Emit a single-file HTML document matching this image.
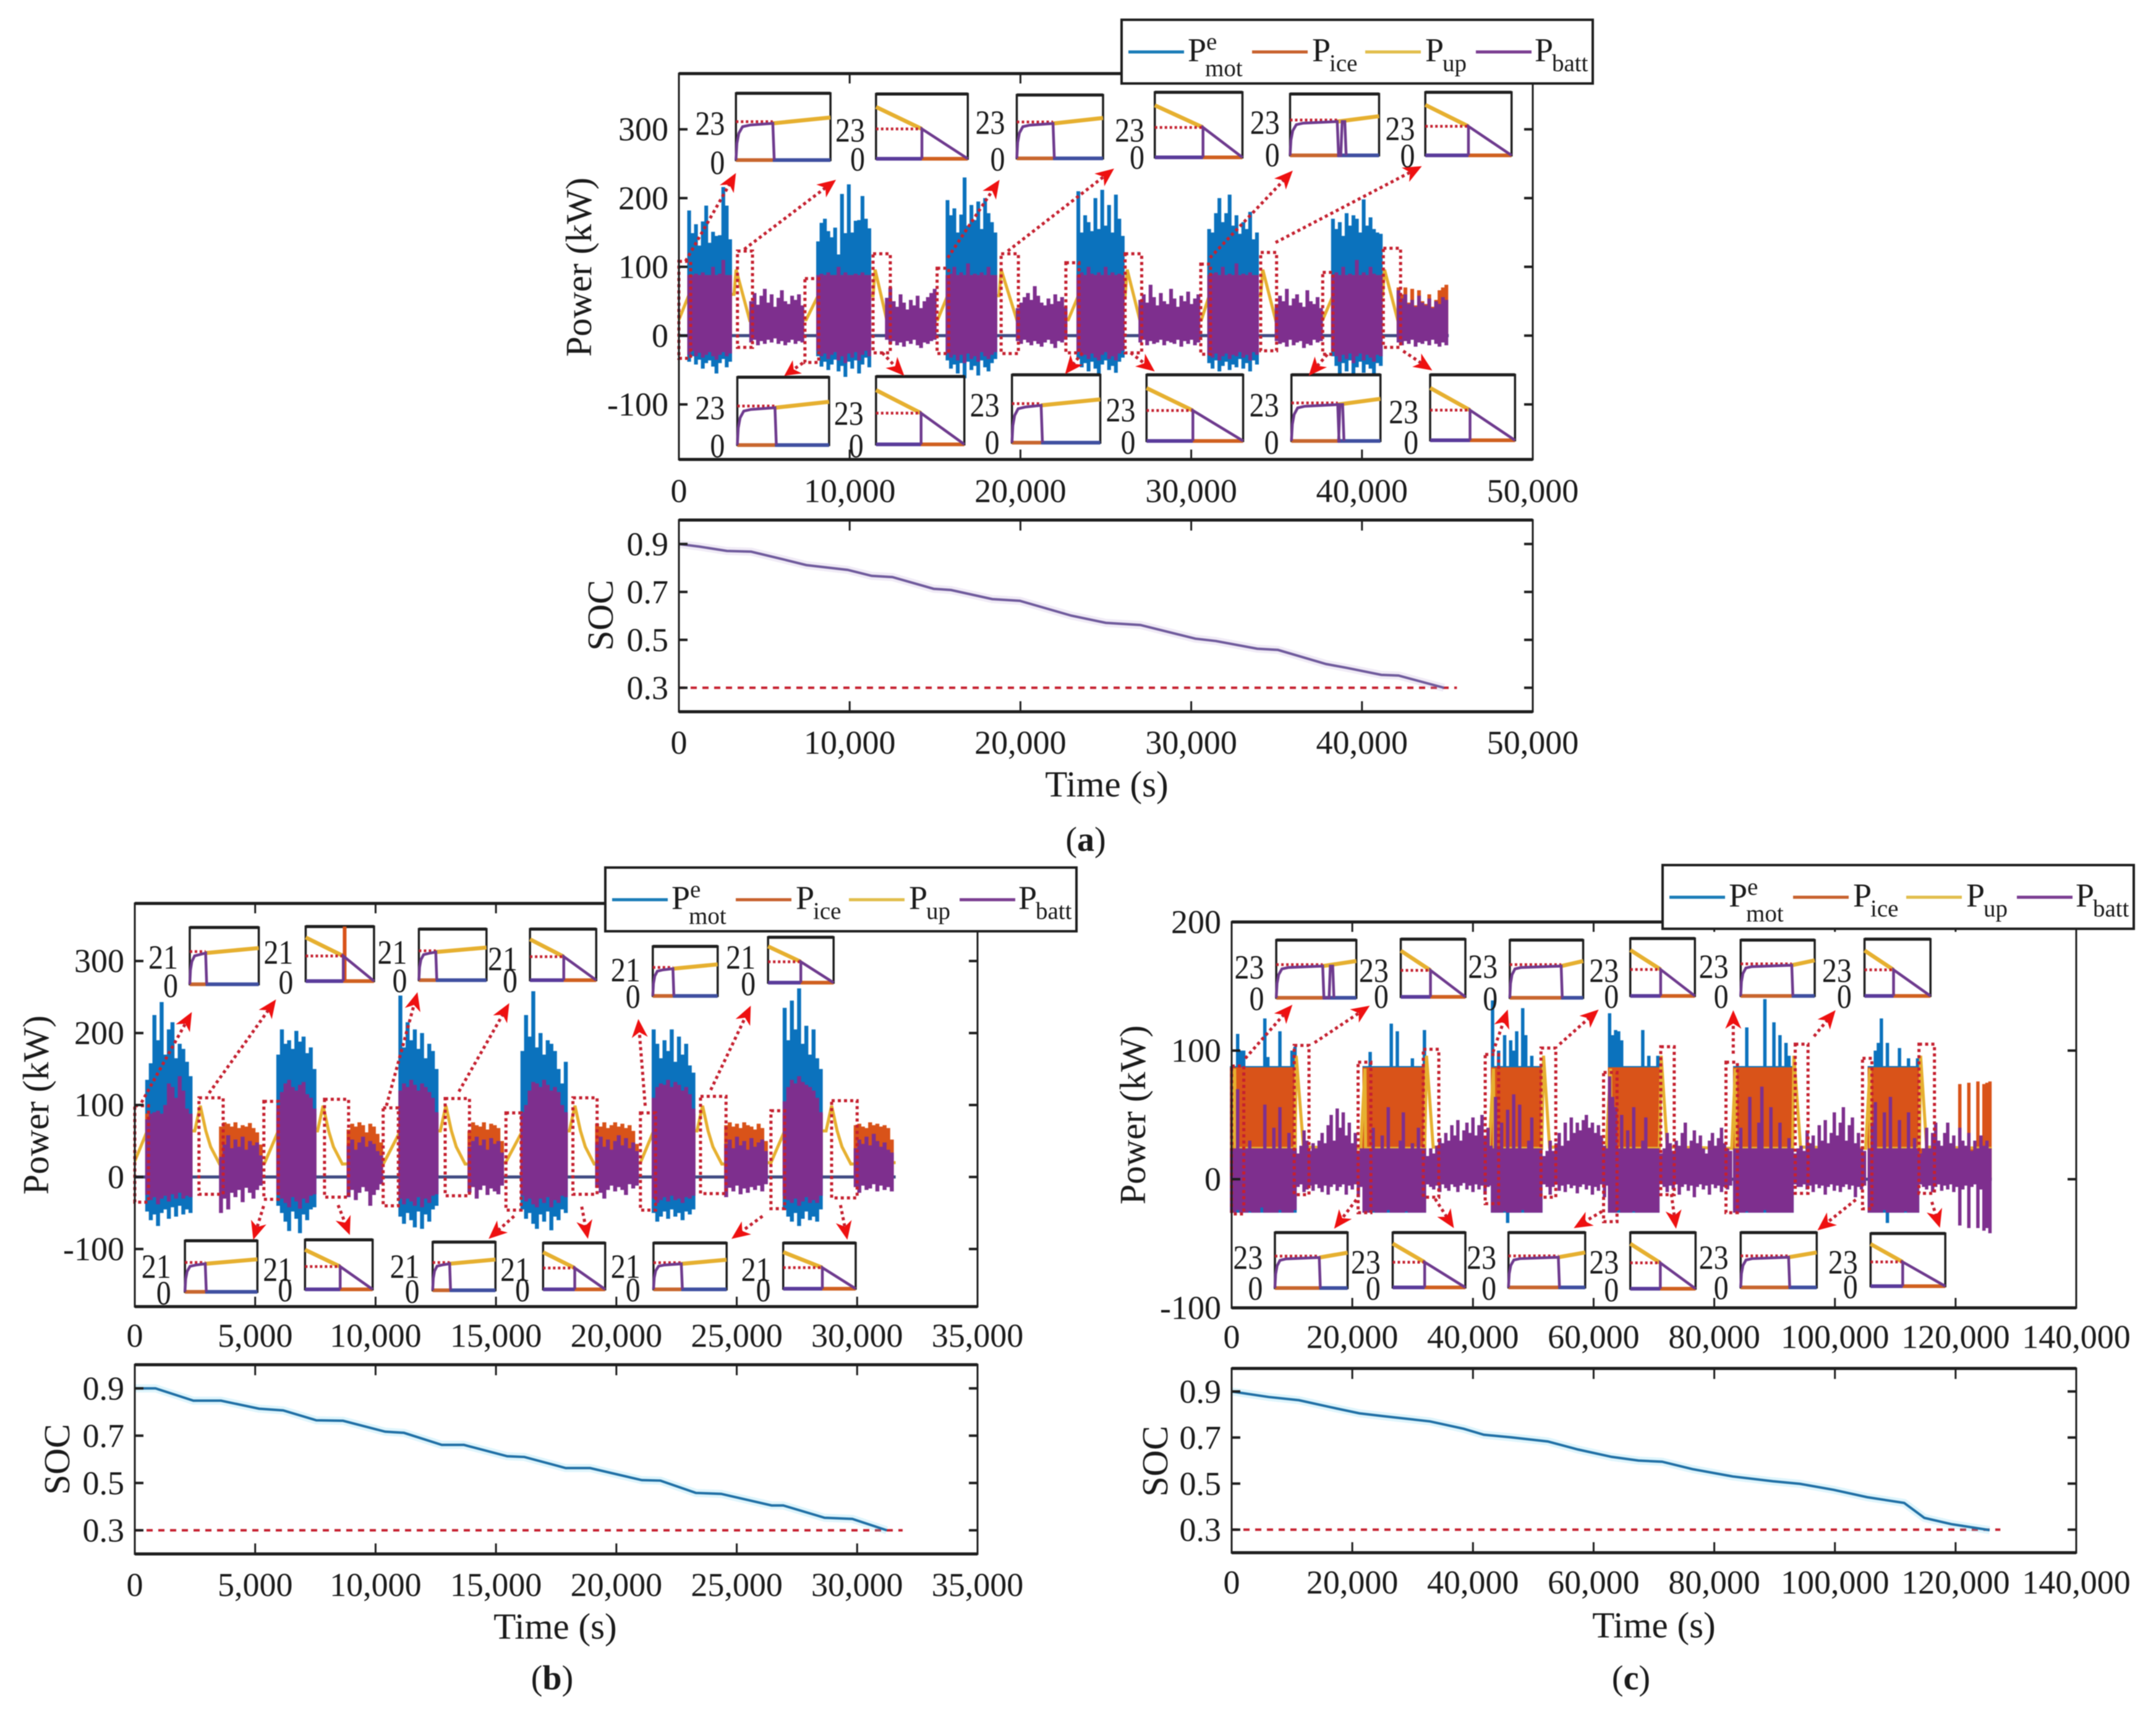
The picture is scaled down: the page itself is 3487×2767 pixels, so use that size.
<!DOCTYPE html>
<html lang="en">
<head>
<meta charset="utf-8">
<title>Power and SOC profiles</title>
<style>
html,body{margin:0;padding:0;background:#fff;}
svg{display:block;filter:blur(0.7px);}
text{font-family:"Liberation Serif","Times New Roman",serif;fill:#1a1a1a;}
</style>
</head>
<body>
<svg id="figure" xmlns="http://www.w3.org/2000/svg" width="3487" height="2767" viewBox="0 0 3487 2767"></svg>
<script>
/* ---------- shared tick data ---------- */
const socTicks=[0.3,0.5,0.7,0.9];
const socTickLabels=['0.3','0.5','0.7','0.9'];
const powerTicksAB=[-100,0,100,200,300];
const powerLabelsAB=['-100','0','100','200','300'];
const powerTicksC=[-100,0,100,200];
const powerLabelsC=['-100','0','100','200'];
const timeTicksA=[0,10000,20000,30000,40000,50000];
const timeLabelsA=['0','10,000','20,000','30,000','40,000','50,000'];
const timeTicksB=[0,5000,10000,15000,20000,25000,30000,35000];
const timeLabelsB=['0','5,000','10,000','15,000','20,000','25,000','30,000','35,000'];
const timeTicksC=[0,20000,40000,60000,80000,100000,120000,140000];
const timeLabelsC=['0','20,000','40,000','60,000','80,000','100,000','120,000','140,000'];

/* ---------- panel (a) power ---------- */
const aBurstStart=[600,8150,15730,23390,31050,38300];
const aMotorPeak=[
[182,149,162,131,166,189,135,151,145,146,216,189,140],
[137,164,170,152,143,157,118,206,149,220,150,167,168,203,170,156],
[197,175,185,150,176,230,160,190,168,195,155,200,178,165,150],
[210,150,175,165,152,200,155,212,160,190,150,205,170,145],
[155,150,178,200,165,178,205,160,175,148,165,155,180,140,150],
[170,155,165,145,178,160,175,170,150,198,160,172,155,150,148]];
const aMotorDip=[
[-38,-30,-42,-35,-48,-40,-36,-45,-55,-40,-34,-46,-38],
[-30,-45,-38,-50,-42,-35,-52,-44,-60,-38,-48,-36,-55,-42,-32,-46],
[-36,-48,-42,-55,-40,-62,-38,-50,-44,-58,-36,-46,-52,-40,-34],
[-34,-46,-40,-52,-38,-48,-56,-42,-36,-50,-44,-54,-38,-32],
[-40,-48,-36,-52,-44,-38,-50,-42,-46,-34,-48,-40,-52,-36,-42],
[-30,-44,-58,-40,-52,-36,-60,-46,-38,-54,-42,-48,-56,-40,-44]];
const aBattPeak=[
[88,88,90,88,92,88,88,100,88,90,110,88,88],
[88,90,88,92,88,88,100,88,92,88,88,90,88,92,88,88],
[88,90,100,88,92,88,105,88,90,88,92,88,100,88,88],
[88,92,88,100,90,88,92,88,100,88,92,88,90,88],
[88,90,92,88,100,88,90,88,105,88,90,88,92,88,88],
[88,92,88,100,88,90,88,110,88,92,88,100,90,88,88]];
const aBattDip=[
[-28,-22,-30,-25,-32,-28,-24,-30,-35,-28,-24,-30,-26],
[-22,-30,-26,-34,-28,-24,-36,-30,-40,-26,-32,-24,-36,-28,-22,-30],
[-26,-32,-28,-36,-28,-40,-26,-34,-30,-38,-24,-30,-34,-28,-24],
[-24,-30,-28,-34,-26,-32,-36,-28,-24,-34,-30,-36,-26,-22],
[-28,-32,-26,-36,-30,-26,-34,-28,-30,-24,-32,-28,-36,-24,-28],
[-22,-30,-38,-28,-34,-26,-40,-30,-26,-36,-28,-32,-38,-28,-30]];
const aIceLevel=[88,88,88,88,88,88];
const aQuietStart=[4230,12180,19840,27020,35000,42140];
const aQuietPeak=[
[50,62,45,58,68,48,60,42,55,66,50,46,58,52,60,44],
[55,70,50,42,60,48,38,52,44,58,40,50,56,62,68],
[40,48,56,62,52,72,58,48,44,54,46,60,50,56,42],
[52,60,48,74,56,44,62,50,46,68,54,42,58,50,64,46,54,60],
[46,58,50,68,44,54,60,48,42,66,50,46,56,40],
[66,54,60,46,52,42,58,48,44,54,40,50,46,56,52]];
const aQuietDip=[
[-10,-6,-14,-8,-12,-6,-10,-4,-12,-8,-14,-10,-6,-12,-8,-10],
[-6,-12,-8,-14,-10,-16,-8,-12,-6,-14,-18,-10,-12,-8,-6],
[-8,-12,-6,-10,-14,-8,-12,-16,-10,-6,-12,-18,-8,-10,-6],
[-10,-6,-14,-8,-12,-10,-6,-14,-8,-10,-12,-6,-16,-8,-12,-6,-14,-10],
[-8,-12,-10,-16,-6,-14,-10,-8,-18,-12,-14,-6,-10,-8],
[-10,-14,-8,-12,-6,-16,-10,-12,-8,-14,-6,-12,-16,-10,-14]];
const aQuietIce=[[],[],[],[],[],
[70,60,70,48,68,44,66,50,46,60,42,52,66,70,74]];
const aUpTime=[0,600,3230,3350,4150,7450,8150,11370,11490,12180,15150,15730,18750,18870,19800,22800,23390,26130,26250,27000,30600,31050,34070,34190,34950,37700,38300,41200,41320,42100,45000];
const aUpPower=[23,60,60,96,22,23,58,58,96,22,23,58,58,96,22,23,58,58,96,22,23,58,58,96,22,23,58,58,96,22,23];
const aEndTime=[45080];
const aZoomStart=[0,3430,7380,11370,15120,18870,22660,26130,30560,34070,37700,41250];
const aZoomEnd=[690,4310,8190,12380,15800,19880,23430,27100,31130,35000,38300,42260];
const aZoomHigh=[108,123,83,119,98,119,106,119,104,121,92,127];
const aZoomLow=[-33,-17,-39,-25,-26,-26,-25,-25,-27,-22,-27,-17];
const aInsetDrop=[39,50,42,55,53,50,41,51,33,48,52,47];
const aInsetNotch=[0,0,0,0,60,0,0,0,0,0,56,0];
const aInsetIceSpike=[0,0,0,0,0,0,0,0,0,0,0,0];
const aInsetTicks=['23','0'];

/* ---------- panel (a) SOC ---------- */
const aSocTime=[0,1210,2820,4230,6050,7460,9880,11290,12500,14920,15930,18350,19960,22980,25000,27020,30240,31450,33870,35080,37900,39110,41130,42140,44800];
const aSocValue=[.900,.889,.871,.868,.837,.812,.792,.767,.762,.713,.708,.670,.663,.601,.571,.562,.505,.495,.463,.458,.399,.383,.354,.351,.300];
const aSocLimitTime=[0,45560];
const aSocLimitValue=[0.3,0.3];

/* ---------- panel (b) power ---------- */
const bBurstStart=[515,5960,11030,16100,21550,26990];
const bMotorPeak=[
[135,158,225,190,243,170,205,215,165,185,178,160,140],
[170,205,185,190,178,203,188,195,172,180,150],
[252,180,215,190,205,178,200,165,185,175,150],
[175,225,195,258,180,200,170,190,185,175,150,130,160],
[205,185,165,190,175,205,160,195,170,185,155,145],
[235,190,245,205,262,185,210,170,205,165,150]];
const bMotorDip=[
[-48,-60,-52,-68,-50,-45,-58,-42,-55,-40,-52,-45,-50],
[-40,-50,-62,-75,-48,-58,-78,-52,-60,-45,-42],
[-55,-65,-50,-60,-70,-48,-72,-52,-62,-45,-40],
[-45,-58,-50,-65,-72,-52,-62,-48,-74,-55,-60,-45,-50],
[-50,-62,-55,-48,-58,-45,-55,-50,-60,-48,-52,-45],
[-45,-55,-62,-50,-68,-58,-48,-60,-55,-62,-45]];
const bBattPeak=[
[80,88,90,92,88,100,130,125,110,140,120,95,88],
[100,118,130,135,125,120,128,132,115,110,95],
[120,130,125,135,128,120,130,125,118,110,90],
[90,100,120,132,130,125,135,128,120,125,118,100,90],
[110,125,130,128,135,125,132,128,120,125,115,95],
[105,125,135,130,140,132,128,125,120,110,90]];
const bBattDip=[
[-25,-32,-28,-38,-30,-26,-34,-24,-30,-22,-30,-26,-28],
[-24,-30,-36,-42,-28,-34,-44,-30,-36,-26,-24],
[-30,-38,-30,-34,-40,-28,-42,-30,-36,-26,-24],
[-26,-34,-30,-38,-42,-30,-36,-28,-42,-32,-36,-26,-28],
[-30,-36,-32,-28,-34,-26,-32,-30,-36,-28,-30,-26],
[-26,-32,-36,-30,-40,-34,-28,-36,-32,-36,-26]];
const bIceLevel=[88,88,88,88,88,88];
const bQuietStart=[3580,8880,13900,19200,24560,29940];
const bQuietPeak=[
[28,45,58,40,52,42,56,38,50,44,48,30],
[44,52,38,48,56,42,50,46,36,30],
[42,50,56,44,52,38,54,46,50,34],
[48,56,42,52,38,50,58,44,54,40,48,36],
[46,52,40,56,44,50,38,54,42,48,52,36],
[40,52,46,56,44,60,50,42,48,38,34]];
const bQuietDip=[
[-50,-30,-45,-22,-28,-18,-35,-15,-22,-30,-18,-12],
[-28,-18,-32,-22,-14,-20,-40,-25,-18,-10],
[-22,-14,-30,-18,-12,-25,-16,-20,-24,-12],
[-15,-22,-30,-18,-12,-20,-14,-18,-25,-10,-16,-12],
[-28,-15,-20,-12,-24,-16,-22,-14,-18,-12,-20,-10],
[-14,-22,-12,-18,-16,-10,-20,-12,-18,-14,-20]];
const bQuietIce=[
[70,76,74,70,76,68,72,70,75,68,62,45],
[66,74,70,76,72,62,74,70,60,48],
[64,76,72,70,76,66,74,72,68,50],
[74,70,76,68,72,76,70,74,68,72,64,46],
[72,76,70,74,68,76,72,70,66,74,68,50],
[72,74,70,68,76,72,74,70,72,68,52]];
const bUpTime=[0,515,2490,2720,2950,3150,3520,5400,5960,7590,7820,8050,8250,8620,10350,11030,12690,12920,13150,13350,13720,15400,16100,18050,18280,18510,18710,19080,21000,21550,23350,23580,23810,24010,24380,26420,26990,28710,28940,29170,29370,29740,31600];
const bUpPower=[22,64,64,99,64,42,18,20,64,64,99,64,42,18,20,64,64,99,64,42,18,20,64,64,99,64,42,18,20,64,64,99,64,42,18,20,64,64,99,64,42,18,20];
const bEndTime=[31600];
const bZoomStart=[0,2665,5360,7880,10315,12890,15415,18195,21000,23495,26420,28940];
const bZoomEnd=[570,3670,5960,8880,10945,13900,16045,19200,21630,24555,26990,30000];
const bZoomHigh=[99,110,105,108,96,109,89,110,89,112,92,106];
const bZoomLow=[-35,-24,-31,-28,-40,-26,-46,-24,-46,-23,-44,-29];
const bInsetDrop=[23,55,25,51,31,50,28,52,27,51,38,54];
const bInsetNotch=[0,0,0,0,0,0,0,0,0,0,0,0];
const bInsetIceSpike=[0,57,0,0,0,0,0,0,0,0,0,0];
const bInsetTicks=['21','0'];

/* ---------- panel (b) SOC ---------- */
const bSocTime=[0,860,2435,3580,5160,6160,7540,8650,10400,11180,12750,13670,15470,16180,17900,18910,21060,21830,23300,24350,26450,26930,28650,29800,31230];
const bSocValue=[.9,.9,.848,.848,.814,.807,.765,.763,.717,.712,.661,.661,.613,.610,.563,.563,.512,.510,.458,.454,.405,.405,.353,.348,.300];
const bSocLimitTime=[0,31890];
const bSocLimitValue=[0.3,0.3];

/* ---------- panel (c) power ---------- */
const cBurstStart=[0,21960,43250,62650,83390,105700];
const cMotorPeak=[
[88,88,113,100,100,88,88,88,88,88,88,125,95,88,88,88,115,88,88,88,100,103],
[88,88,99,88,88,88,88,88,88,121,88,115,88,88,88,88,94,88,88,88,116],
[139,88,100,88,112,88,108,100,115,88,133,112,88,96,88,88,88],
[129,112,116,115,108,88,88,88,88,88,88,116,88,96,88,88,96],
[88,88,88,88,118,88,88,88,88,88,140,88,88,122,88,112,88,106,96,88],
[88,88,100,106,125,88,106,88,88,88,102,88,88,94,88,88,94]];
const cMotorDip=[
[-26,-26,-26,-26,-26,-26,-26,-26,-26,-26,-26,-26,-26,-26,-26,-26,-26,-26,-26,-26,-26,-26],
[-26,-26,-26,-26,-26,-26,-26,-26,-26,-26,-26,-26,-26,-26,-26,-26,-26,-26,-26,-26,-26],
[-26,-26,-26,-26,-26,-34,-26,-26,-26,-26,-26,-26,-26,-26,-26,-26,-26],
[-26,-26,-26,-26,-26,-26,-26,-26,-26,-26,-26,-26,-26,-26,-26,-26,-26],
[-26,-26,-26,-26,-26,-26,-26,-26,-26,-26,-26,-26,-26,-26,-26,-26,-26,-26,-26,-26],
[-26,-26,-26,-26,-26,-26,-34,-26,-26,-26,-26,-26,-26,-26,-26,-26,-26]];
const cBattPeak=[
[24,24,70,24,24,24,30,24,24,24,24,58,24,24,40,24,56,24,24,36,24,24],
[24,24,24,40,24,24,34,24,56,24,24,24,30,52,24,24,28,24,40,24,24],
[24,64,24,44,24,54,24,66,24,58,24,24,30,48,24,24,24],
[80,64,56,24,50,24,38,24,56,24,24,30,48,24,24,24,24],
[24,24,40,24,24,64,24,24,44,72,24,24,56,24,24,44,24,24,32,24],
[24,44,60,24,24,52,24,64,24,24,46,24,24,52,24,32,24]];
const cBattDip=[
[-26,-26,-24,-26,-26,-26,-25,-26,-26,-26,-22,-26,-26,-26,-26,-26,-24,-26,-26,-26,-26,-24],
[-26,-26,-26,-25,-26,-26,-26,-26,-24,-26,-26,-26,-26,-26,-25,-26,-26,-26,-26,-26,-26],
[-26,-26,-26,-26,-25,-26,-26,-26,-26,-26,-24,-26,-26,-26,-26,-26,-26],
[-26,-26,-26,-24,-26,-26,-26,-26,-25,-26,-26,-26,-26,-26,-26,-26,-26],
[-26,-26,-26,-26,-25,-26,-26,-26,-26,-26,-24,-26,-26,-26,-26,-26,-26,-26,-26,-26],
[-26,-26,-26,-26,-26,-24,-26,-26,-26,-26,-26,-26,-25,-26,-26,-26,-26]];
const cIceLevel=[87,87,87,87,87,87];
const cQuietStart=[11000,32500,51800,71200,93400,114200];
const cQuietPeak=[
[20,26,38,30,22,28,24,30,36,28,42,50,30,55,40,52,34,44,28,36,20,24],
[18,24,20,26,32,28,36,30,42,34,46,30,38,44,36,48,34,42,50,32,40,26],
[18,22,30,22,28,36,26,44,30,48,36,44,38,46,50,40,44,36,42,34,26,24],
[20,24,36,28,22,30,26,36,44,24,30,38,28,34,24,20,30,36,26,32,40,28,24,22],
[20,24,26,22,38,28,34,24,42,30,46,28,36,52,34,44,56,30,42,48,28,36,24,22],
[20,24,40,24,36,44,30,26,36,44,28,34,24,40,30,26,36,22,30,24,34,26,30,24]];
const cQuietDip=[
[-6,-4,-10,-8,-5,-9,-4,-7,-10,-5,-12,-6,-4,-9,-6,-4,-12,-5,-8,-4,-14,-6],
[-4,-6,-8,-5,-10,-4,-7,-9,-4,-6,-10,-5,-3,-8,-5,-10,-4,-8,-5,-12,-6,-5],
[-4,-6,-12,-6,-4,-9,-5,-10,-4,-7,-5,-11,-6,-4,-8,-5,-12,-6,-9,-4,-14,-5],
[-4,-6,-10,-5,-8,-4,-12,-6,-4,-9,-5,-14,-6,-4,-8,-5,-12,-4,-7,-5,-10,-6,-8,-5],
[-4,-6,-6,-4,-8,-5,-10,-4,-7,-5,-12,-6,-4,-9,-5,-10,-6,-4,-8,-5,-14,-6,-8,-5],
[-4,-6,-8,-5,-10,-6,-4,-9,-5,-8,-4,-10,-6,-36,-8,-5,-38,-6,-4,-38,-8,-40,-38,-42]];
const cQuietIce=[[],[],[],[],[],
[24,24,24,24,24,24,24,24,24,24,24,24,24,74,24,24,75,24,24,76,24,74,75,76]];
const cUpTime=[0,500,600,10500,10700,11900,21400,22100,22200,32000,32300,33400,42700,43400,43500,51400,51700,52700,62100,62800,62900,70900,71200,72200,82900,83500,83600,93000,93200,94300,105100,105800,105900,114000,114200,115200,126000];
const cUpPower=[24,86,24,24,96,25,24,86,24,24,96,25,24,86,24,24,96,25,24,86,24,24,96,25,24,86,24,24,96,25,24,86,24,24,96,25,24];
const cEndTime=[126000];
const cZoomStart=[0,10370,20960,31770,42030,51280,61650,71130,81940,93420,104570,113930];
const cZoomEnd=[2010,12820,23080,34340,44260,53730,63880,73360,83830,95540,106130,116500];
const cZoomHigh=[88,104,91,101,97,102,83,103,91,105,94,105];
const cZoomLow=[-27,-12,-26,-14,-19,-14,-33,-12,-26,-11,-23,-11];
const cInsetDrop=[58,46,70,47,69,44,61,44,65,46,63,43];
const cInsetNotch=[69,0,0,0,0,0,0,0,0,0,0,0];
const cInsetIceSpike=[0,0,0,0,0,0,0,0,0,0,0,0];
const cInsetTicks=['23','0'];

/* ---------- panel (c) SOC ---------- */
const cSocTime=[0,6130,11150,16170,21180,25090,32890,38460,41810,46270,52400,57420,62990,67450,71350,76370,83050,89740,94200,99780,105350,111480,114830,119290,125640];
const cSocValue=[.900,.876,.862,.833,.805,.793,.770,.738,.712,.701,.683,.648,.616,.600,.595,.563,.531,.510,.499,.473,.441,.416,.351,.324,.298];
const cSocLimitTime=[0,127420];
const cSocLimitValue=[0.3,0.3];

/* ---------- inset curve templates (percent of inset span, kW) ---------- */
const insetRiseTime=[0,1,3,7,15];
const insetRisePower=[0,10,16,20,21];
const insetOnYellowPower=[22,25.5];
const insetOffYellowPower=[40,23];
const insetLimitPower=[23];

/* ---------- layout in zoom-crop units: inset frame + tick label anchors ---------- */
const aInsetLayout=[
[278,275,415,472,262,365,480],[481,277,614,468,465,385,470],[685,280,810,467,668,362,470],[885,272,1012,464,870,385,465],[1081,277,1210,458,1066,362,458],[1277,272,1402,458,1262,380,460],
[280,1112,413,1312,262,1203,1315],[481,1110,609,1310,463,1220,1315],[678,1105,806,1305,660,1195,1305],[873,1105,1013,1300,857,1210,1305],[1083,1105,1212,1300,1065,1195,1305],[1284,1105,1407,1298,1267,1215,1305]];
const bInsetLayout=[
[275,235,375,415,258,330,420],[443,232,542,405,425,315,410],[607,240,705,402,590,315,405],[768,240,864,402,750,335,405],[946,295,1040,452,928,370,455],[1113,266,1208,410,1095,330,415],
[268,1228,373,1390,248,1310,1395],[442,1225,540,1382,424,1320,1385],[627,1232,718,1385,608,1310,1390],[787,1235,877,1382,768,1320,1385],[947,1235,1053,1382,928,1310,1385],[1135,1235,1240,1380,1117,1320,1385]];
const cInsetLayout=[
[261,275,380,458,243,362,462],[446,272,542,455,428,372,455],[608,275,717,458,590,360,462],[787,270,883,452,770,372,455],[951,275,1061,452,933,360,455],[1135,272,1233,452,1116,372,455],
[259,1202,367,1378,241,1282,1380],[434,1202,542,1376,416,1297,1380],[606,1202,720,1376,588,1282,1380],[787,1202,884,1380,770,1297,1385],[951,1202,1064,1376,933,1282,1378],[1144,1205,1255,1372,1125,1297,1375]];
const aArrowLayout=[[205,770,278,510],[290,735,423,530],[585,760,660,530],[672,740,826,497],[965,760,1085,503],[1060,715,1272,490],[375,1070,348,1108],[490,1040,522,1108],[780,1040,755,1103],[850,1040,885,1095],[1135,1045,1108,1108],[1245,1035,1287,1092]];
const bArrowLayout=[[205,790,278,503],[303,760,400,463],[560,800,605,440],[665,755,738,475],[935,800,925,525],[1030,750,1088,483],[382,1118,367,1225],[490,1115,507,1210],[745,1150,708,1222],[843,1120,852,1222],[1105,1150,1060,1222],[1218,1115,1228,1225]];
const cArrowLayout=[[215,650,285,480],[318,600,400,483],[583,630,605,495],[682,605,740,495],[940,635,940,497],[1060,580,1092,497],[380,1098,347,1190],[497,1095,525,1188],[745,1135,703,1188],[848,1080,855,1190],[1122,1098,1065,1195],[1235,1105,1247,1187]];

/* ---------- drawing ---------- */
const NS='http://www.w3.org/2000/svg';
const root=document.getElementById('figure');
const COL={mot:'#0B72BD',ice:'#D95319',up:'#E6B030',batt:'#7E2F8E',red:'#C5202F',head:'#EE1010',ink:'#1e1e1e'};
function make(tag,attrs,parent){
  const el=document.createElementNS(NS,tag);
  for(const k in attrs) el.setAttribute(k,attrs[k]);
  parent.appendChild(el);
  return el;
}
function linear(d0,d1,r0,r1){return v=>+(r0+(v-d0)*(r1-r0)/(d1-d0)).toFixed(2);}
function barsPath(starts,step,highs,lows,X,Y){
  let d='';
  starts.forEach((s,b)=>{
    highs[b].forEach((h,i)=>{
      const low=Array.isArray(lows)?lows[b][i]:lows;
      const t=s+i*step;
      d+='M'+X(t)+' '+Y(low)+'V'+Y(h);
    });
  });
  return d;
}
function solidBars(starts,step,levels,counts,low,X,Y){
  let d='';
  starts.forEach((s,b)=>{
    counts[b].forEach((_,i)=>{
      const t=s+i*step;
      d+='M'+X(t)+' '+Y(low)+'V'+Y(levels[b]);
    });
  });
  return d;
}
function polyPoints(xs,ys,X,Y){return xs.map((x,i)=>X(x)+','+Y(ys[i])).join(' ');}

function drawAxes(g,box,X,Y,xTicks,xLabels,yTicks,yLabels,labelDrop,tickLen){
  const frame=make('rect',{x:box.l,y:box.t,width:box.r-box.l,height:box.b-box.t,fill:'none',stroke:COL.ink,'stroke-width':3},g);
  
  
  const edges=make('path',{d:'M'+box.l+' '+box.t+'H'+box.r+'M'+box.l+' '+box.b+'H'+box.r,stroke:COL.ink,'stroke-width':5,fill:'none'},g);
  
  
  xTicks.forEach((t,i)=>{
    const mark=make('path',{d:'M'+X(t)+' '+box.t+'v'+tickLen+'M'+X(t)+' '+box.b+'v'+(-tickLen),stroke:COL.ink,'stroke-width':3,fill:'none'},g);
    
    
    const label=make('text',{x:X(t),y:box.b+labelDrop,'text-anchor':'middle','font-size':54},g);
    
    
    label.textContent=xLabels[i];
  });
  yTicks.forEach((v,i)=>{
    const mark=make('path',{d:'M'+box.l+' '+Y(v)+'h14M'+box.r+' '+Y(v)+'h-14',stroke:COL.ink,'stroke-width':4,fill:'none'},g);
    
    
    const label=make('text',{x:box.l-17,y:Y(v)+18,'text-anchor':'end','font-size':54},g);
    
    
    label.textContent=yLabels[i];
  });
}

function drawInset(g,f,i,drop,notch,spike,ticks,cx,cy){
  const x0=cx(f[0]),y0=cy(f[1]),x1=cx(f[2]),y1=cy(f[3]);
  const on=i%2===0;
  const IX=linear(0,100,x0,x1);
  const IY=linear(0,on?40:50,y1,y0);
  const inset=make('g',{},g);
  
  
  const box=make('rect',{x:x0,y:y0,width:x1-x0,height:y1-y0,fill:'#fff',stroke:COL.ink,'stroke-width':3.5},inset);
  
  
  const topEdge=make('line',{x1:x0,x2:x1,y1:y0,y2:y0,stroke:COL.ink,'stroke-width':5},inset);
  
  
  const base1=make('line',{x1:IX(0),x2:IX(drop),y1:IY(0),y2:IY(0),stroke:on?'#C8662E':'#5A3B9A','stroke-width':6},inset);
  
  
  const base2=make('line',{x1:IX(drop),x2:IX(100),y1:IY(0),y2:IY(0),stroke:on?'#3F4FA0':'#D0601F','stroke-width':6},inset);
  
  
  const yellow=make('polyline',{points:on?polyPoints([drop,100],insetOnYellowPower,IX,IY):polyPoints([0,drop],insetOffYellowPower,IX,IY),fill:'none',stroke:COL.up,'stroke-width':6.5},inset);
  
  
  if(spike){
    const iceSpike=make('line',{x1:IX(spike),x2:IX(spike),y1:IY(0),y2:IY(50),stroke:COL.ice,'stroke-width':6},inset);
    
    
  }
  const limit=make('line',{x1:IX(0),x2:IX(drop),y1:IY(insetLimitPower[0]),y2:IY(insetLimitPower[0]),stroke:COL.red,'stroke-width':4.5,'stroke-dasharray':'4 4'},inset);
  
  
  let xs,ys;
  if(on){
    xs=insetRiseTime.concat([drop,drop+1.5]);
    ys=insetRisePower.concat([22,0]);
    if(notch){xs=xs.concat([notch-3,notch-1.5,notch+1.5,notch+3]);ys=ys.concat([0,22,22,0]);}
  }else{
    xs=[drop,drop,100];
    ys=[0,insetLimitPower[0],0];
  }
  const purple=make('polyline',{points:polyPoints(xs,ys,IX,IY),fill:'none',stroke:'#6E3A8E','stroke-width':4.5},inset);
  
  
  const hi=make('text',{x:cx(f[4]),y:cy(f[5])+18,'text-anchor':'end','font-size':55,textLength:ticks[0].length*24,lengthAdjust:'spacingAndGlyphs'},inset);
  
  
  hi.textContent=ticks[0];
  const lo=make('text',{x:cx(f[4]),y:cy(f[6])+18,'text-anchor':'end','font-size':55,textLength:ticks[1].length*24,lengthAdjust:'spacingAndGlyphs'},inset);
  
  
  lo.textContent=ticks[1];
}

function drawArrow(g,a,cx,cy){
  const x1=cx(a[0]),y1=cy(a[1]),x2=cx(a[2]),y2=cy(a[3]);
  const dx=x2-x1,dy=y2-y1,len=Math.hypot(dx,dy),ux=dx/len,uy=dy/len,nx=-uy,ny=ux;
  const L=Math.min(30,len*0.7),W=13;
  const line=make('line',{x1:x1,y1:y1,x2:x2-ux*L*0.6,y2:y2-uy*L*0.6,stroke:COL.red,'stroke-width':5,'stroke-dasharray':'5 5'},g);
  
  
  const bx=x2-ux*L,by=y2-uy*L,mx=x2-ux*L*0.72,my=y2-uy*L*0.72;
  const head=make('polygon',{points:[x2,y2,bx+nx*W,by+ny*W,mx,my,bx-nx*W,by-ny*W].map(n=>n.toFixed(1)).join(' '),fill:COL.head},g);
  
  
}

function drawLegend(g,lx,ly,firstSuper){
  const box=make('rect',{x:lx,y:ly,width:762,height:103,fill:'#fff',stroke:COL.ink,'stroke-width':4},g);
  
  
  const entryNames=['mot','ice','up','batt'];
  const entryColors=['#1B7DB8','#C8622E','#E2BE4C','#7B3F92'];
  const entryLine=[11,211,394,573];
  const entryText=[107,308,491,668];
  const entrySub=[135,336,519,696];
  entryNames.forEach((n,i)=>{
    const item=make('g',{},g);
    
    
    const swatch=make('line',{x1:lx+entryLine[i],x2:lx+entryLine[i]+90,y1:ly+52,y2:ly+52,stroke:entryColors[i],'stroke-width':5},item);
    
    
    const p=make('text',{x:lx+entryText[i],y:ly+67,'font-size':54},item);
    
    
    p.textContent='P';
    const sub=make('text',{x:lx+entrySub[i],y:ly+(i===0?91:83),'font-size':39},item);
    
    
    sub.textContent=n;
    if(i===0){
      const sup=make('text',{x:lx+entrySub[i]+2,y:ly+48,'font-size':39},item);
      
      
      sup.textContent=firstSuper;
    }
  });
}

function drawPower(o){
  const g=make('g',{},root);
  
  
  const X=linear(0,o.xMax,o.box.l,o.box.r);
  const Y=linear(o.yMin,o.yMax,o.box.b,o.box.t);
  const barW=(o.step*(o.box.r-o.box.l)/o.xMax+0.6).toFixed(2);
  const motor=make('path',{d:barsPath(o.burstStart,o.step,o.motorPeak,o.motorDip,X,Y),stroke:COL.mot,'stroke-width':barW,fill:'none'},g);
  
  
  const ice=make('path',{d:solidBars(o.burstStart,o.step,o.iceLevel,o.motorPeak,0,X,Y)+barsPath(o.quietStart,o.step,o.quietIce,0,X,Y),stroke:COL.ice,'stroke-width':barW,fill:'none'},g);
  
  
  const up=make('polyline',{points:polyPoints(o.upTime,o.upPower,X,Y),fill:'none',stroke:COL.up,'stroke-width':5},g);
  
  
  const zero=make('line',{x1:X(0),x2:X(o.endTime[0]),y1:Y(0),y2:Y(0),stroke:'#3F4A82','stroke-width':5},g);
  
  
  const batt=make('path',{d:barsPath(o.burstStart,o.step,o.battPeak,o.battDip,X,Y)+barsPath(o.quietStart,o.step,o.quietPeak,o.quietDip,X,Y),stroke:COL.batt,'stroke-width':barW,fill:'none'},g);
  
  
  o.zoomStart.forEach((s,i)=>{
    const r=make('rect',{x:X(s),y:Y(o.zoomHigh[i]),width:X(o.zoomEnd[i])-X(s),height:Y(o.zoomLow[i])-Y(o.zoomHigh[i]),fill:'none',stroke:COL.red,'stroke-width':5,'stroke-dasharray':'5 5'},g);
    
    
  });
  drawAxes(g,o.box,X,Y,o.xTicks,o.xLabels,o.yTicks,o.yLabels,o.xLabelDrop,16);
  o.insetLayout.forEach((f,i)=>drawInset(g,f,i,o.insetDrop[i],o.insetNotch[i],o.insetSpike[i],o.insetTicks,o.cx,o.cy));
  o.arrowLayout.forEach(a=>drawArrow(g,a,o.cx,o.cy));
  drawLegend(g,o.legend[0],o.legend[1],'e');
  const title=make('text',{transform:'translate('+o.yTitle[0]+' '+o.yTitle[1]+') rotate(-90)','text-anchor':'middle','font-size':59},g);
  
  
  title.textContent='Power (kW)';
}

function drawSoc(o){
  const g=make('g',{},root);
  
  
  const X=linear(0,o.xMax,o.box.l,o.box.r);
  const Y=linear(0.2,1.0,o.box.b,o.box.t);
  const limit=make('polyline',{points:polyPoints(o.limitTime,o.limitValue,X,Y),fill:'none',stroke:COL.red,'stroke-width':4,'stroke-dasharray':'10 9'},g);
  
  
  const halo=make('polyline',{points:polyPoints(o.time,o.value,X,Y),fill:'none',stroke:o.halo,'stroke-width':13,'stroke-opacity':0.22},g);
  
  
  const soc=make('polyline',{points:polyPoints(o.time,o.value,X,Y),fill:'none',stroke:o.color,'stroke-width':4},g);
  
  
  drawAxes(g,o.box,X,Y,o.xTicks,o.xLabels,socTicks,socTickLabels,o.xLabelDrop,17);
  const title=make('text',{transform:'translate('+o.yTitle[0]+' '+o.yTitle[1]+') rotate(-90)','text-anchor':'middle','font-size':59},g);
  
  
  title.textContent='SOC';
  const time=make('text',{x:o.xTitle[0],y:o.xTitle[1],'text-anchor':'middle','font-size':59},g);
  
  
  time.textContent='Time (s)';
  const cap=make('text',{x:o.caption[0],y:o.caption[1],'text-anchor':'middle','font-size':56},g);
  
  
  cap.appendChild(document.createTextNode('('));
  const letter=make('tspan',{'font-weight':'bold'},cap);
  letter.textContent=o.caption[2];
  cap.appendChild(document.createTextNode(')'));
}

drawPower({name:'panel-a-power',box:{l:1098,r:2479,t:119,b:743},xMax:50000,yMin:-180,yMax:381,step:200,
  burstStart:aBurstStart,motorPeak:aMotorPeak,motorDip:aMotorDip,battPeak:aBattPeak,battDip:aBattDip,iceLevel:aIceLevel,
  quietStart:aQuietStart,quietPeak:aQuietPeak,quietDip:aQuietDip,quietIce:aQuietIce,upTime:aUpTime,upPower:aUpPower,endTime:aEndTime,
  zoomStart:aZoomStart,zoomEnd:aZoomEnd,zoomHigh:aZoomHigh,zoomLow:aZoomLow,
  xTicks:timeTicksA,xLabels:timeLabelsA,yTicks:powerTicksAB,yLabels:powerLabelsAB,xLabelDrop:69,
  insetLayout:aInsetLayout,insetDrop:aInsetDrop,insetNotch:aInsetNotch,insetSpike:aInsetIceSpike,insetTicks:aInsetTicks,arrowLayout:aArrowLayout,
  cx:x=>880+x/0.896,cy:y=>y/1.823,legend:[1814,32],yTitle:[956,432]});
drawSoc({name:'panel-a-soc',box:{l:1098,r:2479,t:841,b:1151},xMax:50000,time:aSocTime,value:aSocValue,limitTime:aSocLimitTime,limitValue:aSocLimitValue,color:'#6F5A9C',halo:'#B9A5D8',
  xTicks:timeTicksA,xLabels:timeLabelsA,xLabelDrop:68,yTitle:[991,995],xTitle:[1790,1288],caption:[1756,1376,'a']});

drawPower({name:'panel-b-power',box:{l:218,r:1581,t:1461,b:2113},xMax:35000,yMin:-180,yMax:380,step:150,
  burstStart:bBurstStart,motorPeak:bMotorPeak,motorDip:bMotorDip,battPeak:bBattPeak,battDip:bBattDip,iceLevel:bIceLevel,
  quietStart:bQuietStart,quietPeak:bQuietPeak,quietDip:bQuietDip,quietIce:bQuietIce,upTime:bUpTime,upPower:bUpPower,endTime:bEndTime,
  zoomStart:bZoomStart,zoomEnd:bZoomEnd,zoomHigh:bZoomHigh,zoomLow:bZoomLow,
  xTicks:timeTicksB,xLabels:timeLabelsB,yTicks:powerTicksAB,yLabels:powerLabelsAB,xLabelDrop:65,
  insetLayout:bInsetLayout,insetDrop:bInsetDrop,insetNotch:bInsetNotch,insetSpike:bInsetIceSpike,insetTicks:bInsetTicks,arrowLayout:bArrowLayout,
  cx:x=>x/0.896,cy:y=>1380+y/1.96,legend:[979,1403],yTitle:[78,1787]});
drawSoc({name:'panel-b-soc',box:{l:218,r:1581,t:2207,b:2513},xMax:35000,time:bSocTime,value:bSocValue,limitTime:bSocLimitTime,limitValue:bSocLimitValue,color:'#1F6FA5',halo:'#6FD0F0',
  xTicks:timeTicksB,xLabels:timeLabelsB,xLabelDrop:68,yTitle:[112,2360],xTitle:[898,2650],caption:[893,2732,'b']});

drawPower({name:'panel-c-power',box:{l:1992,r:3358,t:1491,b:2115},xMax:140000,yMin:-100,yMax:200,step:500,
  burstStart:cBurstStart,motorPeak:cMotorPeak,motorDip:cMotorDip,battPeak:cBattPeak,battDip:cBattDip,iceLevel:cIceLevel,
  quietStart:cQuietStart,quietPeak:cQuietPeak,quietDip:cQuietDip,quietIce:cQuietIce,upTime:cUpTime,upPower:cUpPower,endTime:cEndTime,
  zoomStart:cZoomStart,zoomEnd:cZoomEnd,zoomHigh:cZoomHigh,zoomLow:cZoomLow,
  xTicks:timeTicksC,xLabels:timeLabelsC,yTicks:powerTicksC,yLabels:powerLabelsC,xLabelDrop:65,
  insetLayout:cInsetLayout,insetDrop:cInsetDrop,insetNotch:cInsetNotch,insetSpike:cInsetIceSpike,insetTicks:cInsetTicks,arrowLayout:cArrowLayout,
  cx:x=>1780+x/0.9186,cy:y=>1380+y/1.96,legend:[2689,1399],yTitle:[1852,1803]});
drawSoc({name:'panel-c-soc',box:{l:1992,r:3358,t:2213,b:2511},xMax:140000,time:cSocTime,value:cSocValue,limitTime:cSocLimitTime,limitValue:cSocLimitValue,color:'#1F6FA5',halo:'#6FD0F0',
  xTicks:timeTicksC,xLabels:timeLabelsC,xLabelDrop:66,yTitle:[1888,2363],xTitle:[2675,2648],caption:[2638,2732,'c']});
</script>
</body>
</html>
